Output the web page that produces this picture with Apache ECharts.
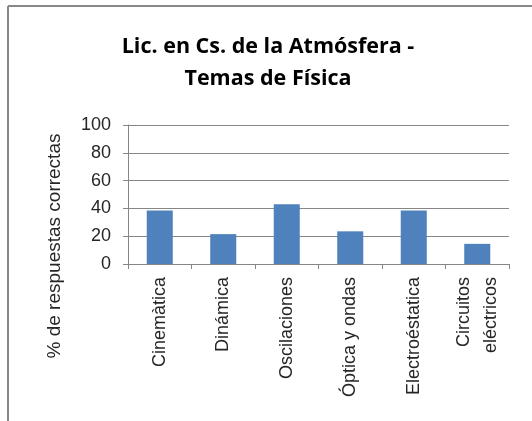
<!DOCTYPE html>
<html><head><meta charset="utf-8">
<script src="https://cdn.jsdelivr.net/npm/echarts@6/dist/echarts.min.js"></script>
<style>html,body{margin:0;padding:0;background:#fff}#c{width:532px;height:421px}</style>
</head><body><div id="c"></div>
<script>
const categories = ["Cinemàtica", "Dinámica", "Oscilaciones", "Óptica y ondas", "Electroéstatica", "Circuitos\neléctricos"];
const values = [38.5, 21.5, 43, 23.5, 38.5, 14.5];
const yTicks = [0, 20, 40, 60, 80, 100];
const titleText = "Lic. en Cs. de la Atmósfera -\nTemas de Física";
const yName = "% de respuestas correctas";

const chart = echarts.init(document.getElementById('c'), null, {renderer: 'canvas'});
chart.setOption({
  animation: false,
  backgroundColor: '#fff',
  title: {
    text: titleText, left: 263, top: 26, textAlign: 'center',
    textStyle: {fontFamily: 'Open Sans', fontWeight: 'bold', fontSize: 21.5, lineHeight: 32, color: '#000'}
  },
  grid: {left: 128, right: 23, top: 125, bottom: 157, containLabel: false},
  xAxis: {
    type: 'category', data: categories,
    axisLine: {lineStyle: {color: '#868686', width: 1}},
    axisTick: {show: true, length: 5, lineStyle: {color: '#868686'}},
    axisLabel: {rotate: 90, interval: 0, margin: 13, align: 'right', verticalAlign: 'middle', hideOverlap: false,
      color: '#262626', fontFamily: 'Liberation Sans', fontSize: 18, lineHeight: 27}
  },
  yAxis: {
    type: 'value', min: yTicks[0], max: yTicks[yTicks.length - 1], interval: 20,
    axisLine: {show: true, lineStyle: {color: '#868686'}},
    axisTick: {show: true, length: 5, lineStyle: {color: '#868686'}},
    axisLabel: {margin: 17, color: '#262626', fontFamily: 'Liberation Sans', fontSize: 18},
    splitLine: {lineStyle: {color: '#868686', width: 1}}
  },
  series: [{
    type: 'bar', data: values, barWidth: '41%',
    itemStyle: {color: '#4F81BD'}
  }],
  graphic: [
    {type: 'line', shape: {x1: 8, y1: 6, x2: 532, y2: 6}, style: {stroke: '#888', lineWidth: 2}},
    {type: 'line', shape: {x1: 8, y1: 6, x2: 8, y2: 421}, style: {stroke: '#888', lineWidth: 2}},
    {type: 'text', x: 55, y: 246, rotation: Math.PI / 2,
      style: {text: yName, fill: '#262626', font: '19px "Liberation Sans"', textAlign: 'center', textVerticalAlign: 'middle', align: 'center', verticalAlign: 'middle'}}
  ]
});
</script></body></html>
